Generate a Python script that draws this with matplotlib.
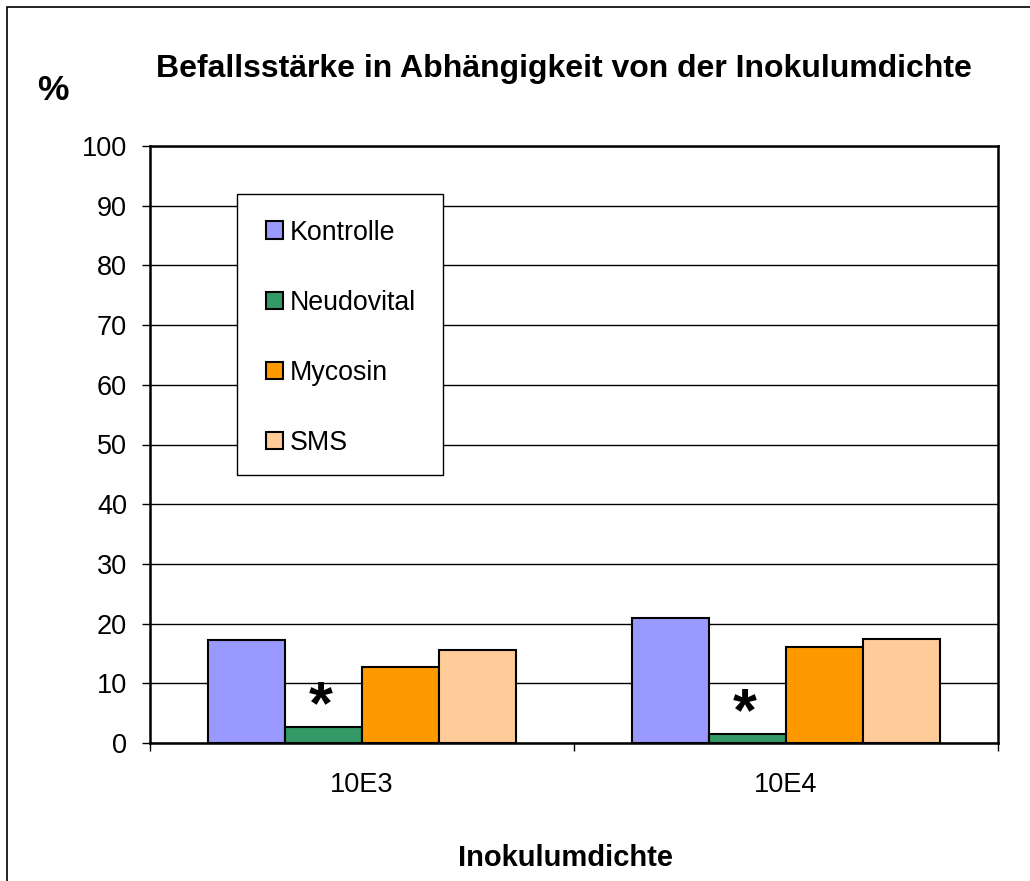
import matplotlib
matplotlib.use("Agg")
import matplotlib.pyplot as plt
import numpy as np
from matplotlib.patches import Rectangle

plt.rcParams['font.family'] = ['Liberation Sans', 'DejaVu Sans']

# data
categories = ["10E3", "10E4"]
series = ["Kontrolle", "Neudovital", "Mycosin", "SMS"]
kontrolle = [17.2, 21.0]
neudovital = [2.7, 1.5]
mycosin = [12.7, 16.1]
sms = [15.5, 17.5]
colors = ["#9999FF", "#339966", "#FF9900", "#FFCC99"]
signif = ["Neudovital"]  # series marked with *

W, H = 1030, 881
fig = plt.figure(figsize=(W / 100, H / 100), dpi=100)
ax = fig.add_axes([150 / W, 1 - 743 / H, (998 - 150) / W, (743 - 146) / H])

x = np.arange(len(categories))
bw = 0.1816
values = [kontrolle, neudovital, mycosin, sms]
for i, (name, vals, col) in enumerate(zip(series, values, colors)):
    pos = x + (i - 1.5) * bw
    ax.bar(pos, vals, width=bw, color=col, edgecolor="black", linewidth=1.5,
           zorder=3)
    if name in signif:
        for px, v in zip(pos, vals):
            ax.annotate("*", xy=(px, v), xytext=(-2, -6.5), textcoords="offset points",
                        ha="center", va="bottom", fontsize=44, fontweight="bold",
                        zorder=4)

ax.set_xlim(-0.5, len(categories) - 0.5)
ax.set_ylim(0, 100)
ax.set_yticks(np.arange(0, 101, 10))
ax.yaxis.grid(True, color="black", linewidth=1)
ax.set_axisbelow(True)
ax.tick_params(axis="y", length=6, width=1, pad=10.5, labelsize=19.5, direction="out")

ax.set_xticks(np.arange(-0.5, len(categories)), labels=[""] * (len(categories) + 1))
ax.set_xticks(x, labels=categories, minor=True)
ax.tick_params(axis="x", which="major", length=6, width=1, direction="out")
ax.tick_params(axis="x", which="minor", length=0, pad=21, labelsize=19.5)

for s in ax.spines.values():
    s.set_linewidth(1.8)
    s.set_color("black")

# legend box, laid out in figure pixels like the original
def fx(px):
    return px / W

def fy(py):
    return 1 - py / H

fig.patches.append(Rectangle((fx(237), fy(475)), fx(443) - fx(237), fy(194) - fy(475),
                             transform=fig.transFigure, facecolor="white",
                             edgecolor="black", linewidth=1, zorder=5))
for i, (name, col) in enumerate(zip(series, colors)):
    cy = 230 + 70 * i
    fig.patches.append(Rectangle((fx(266), fy(cy + 8.5)), fx(17), 17 / H,
                                 transform=fig.transFigure, facecolor=col,
                                 edgecolor="black", linewidth=1.5, zorder=6))
    fig.text(fx(290), fy(cy), name, ha="left", va="center_baseline",
             fontsize=19.3, zorder=6)

fig.text(564 / W, 1 - 76.7 / H, "Befallsstärke in Abhängigkeit von der Inokulumdichte",
         ha="center", va="baseline", fontsize=23, fontweight="bold")
fig.text(53 / W, 1 - 100 / H, "%", ha="center", va="baseline",
         fontsize=25.5, fontweight="bold")
fig.text(566 / W, 1 - 866 / H, "Inokulumdichte", ha="center", va="baseline",
         fontsize=21, fontweight="bold")

# outer chart-area border (cut off at right and bottom)
fig.patches.append(Rectangle((7 / W, -0.1), 1.2, 1 - 7 / H + 0.1,
                             transform=fig.transFigure, fill=False,
                             edgecolor="black", linewidth=1.2))

fig.savefig("out.png", dpi=100)
